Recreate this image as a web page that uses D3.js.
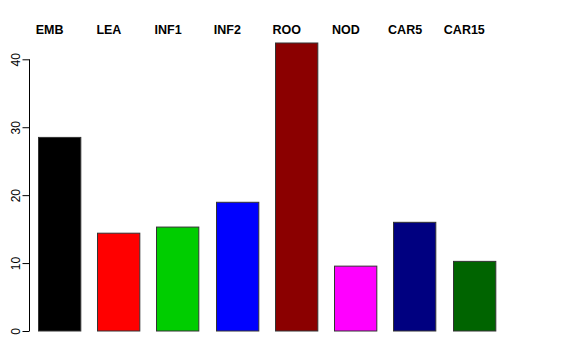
<!DOCTYPE html>
<html>
<head>
<meta charset="utf-8">
<script src="https://cdn.jsdelivr.net/npm/d3@7"></script>
<style>
  body { margin: 0; background: #fff; }
  svg { display: block; font-family: "Liberation Sans", Arial, sans-serif; }
</style>
</head>
<body>
<div id="chart"></div>
<script>
// Chart data
const categories = ["EMB", "LEA", "INF1", "INF2", "ROO", "NOD", "CAR5", "CAR15"];
const values = [28.5, 14.4, 15.3, 18.95, 42.4, 9.55, 16.0, 10.25];
const barColors = ["#000000", "#FF0000", "#00CD00", "#0000FF", "#8B0000", "#FF00FF", "#000080", "#006400"];
const yTicks = [0, 10, 20, 30, 40];

const width = 576;
const height = 360;

const svg = d3
  .select("#chart")
  .append("svg")
  .attr("width", width)
  .attr("height", height);

// Scales
const x = d3
  .scaleBand()
  .domain(categories)
  .range([38, 495])
  .paddingInner(0.2857)
  .paddingOuter(0);

const y = d3.scaleLinear().domain([0, 40]).range([331, 59.3]);

// Bars
svg
  .selectAll(".bar")
  .data(categories)
  .enter()
  .append("rect")
  .attr("class", "bar")
  .attr("x", (d) => Math.round(x(d)) + 0.5)
  .attr("y", (d, i) => y(values[i]))
  .attr("width", x.bandwidth())
  .attr("height", (d, i) => y(0) - y(values[i]))
  .attr("fill", (d, i) => barColors[i])
  .attr("stroke", "#333")
  .attr("stroke-width", 1);

// Category labels on top (sit a bit left of the bar centres)
svg
  .selectAll(".cat-label")
  .data(categories)
  .enter()
  .append("text")
  .attr("class", "cat-label")
  .attr("x", (d) => x(d) + x.bandwidth() / 2 - 9.5)
  .attr("y", 34)
  .attr("text-anchor", "middle")
  .style("font-weight", "bold")
  .style("font-size", "12.5px")
  .attr("fill", "#000")
  .text((d) => d);

// Y axis
const yAxis = d3.axisLeft(y).tickValues(yTicks).tickSize(7).tickPadding(3);
const gy = svg
  .append("g")
  .attr("transform", "translate(29.5,0)")
  .call(yAxis);

gy.select(".domain").attr("d", `M0,${y(0)}V${y(40)}`).attr("stroke", "#000");
gy.selectAll(".tick line").attr("stroke", "#000");
gy.selectAll(".tick text")
  .attr("transform", "rotate(-90)")
  .attr("x", 0)
  .attr("y", -10)
  .attr("dy", 0)
  .attr("text-anchor", "middle")
  .style("font-size", "12px")
  .style("font-family", "Liberation Sans, Arial, sans-serif")
  .attr("fill", "#000");
</script>
</body>
</html>
